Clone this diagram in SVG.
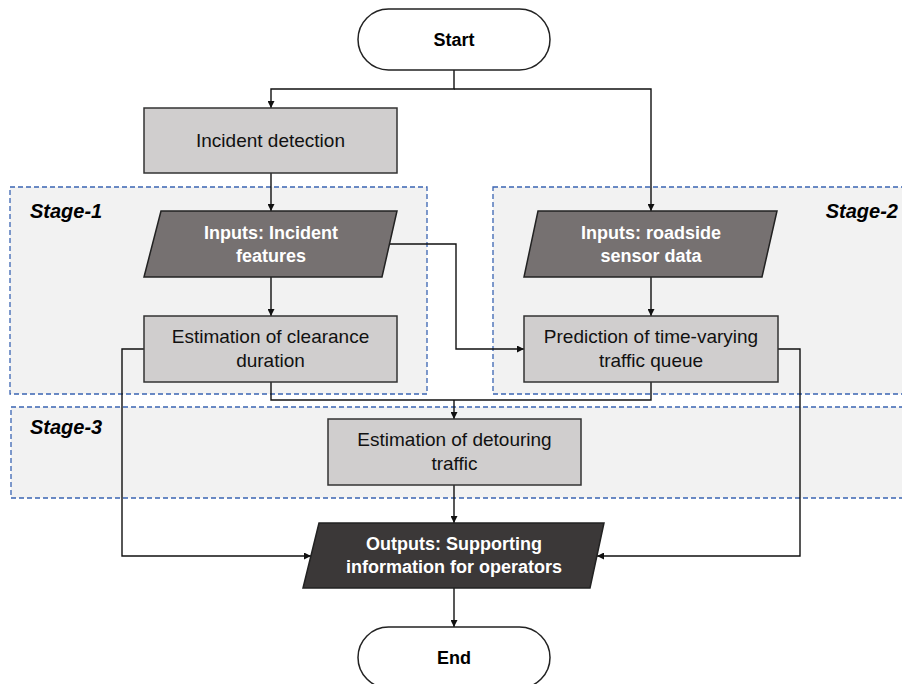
<svg xmlns="http://www.w3.org/2000/svg" width="902" height="684" viewBox="0 0 902 684">
  <style>
    .stage { fill: #f2f2f2; stroke: #3a64b2; stroke-width: 1.3; stroke-dasharray: 5 3; }
    .stage-label { font-family: "Liberation Sans", Arial, sans-serif; font-size: 20px; font-weight: bold; font-style: italic; fill: #000; }
    .proc { fill: #d0cece; stroke: #333; stroke-width: 1.5; }
    .input { fill: #767171; stroke: #222; stroke-width: 1.5; }
    .output { fill: #3b3838; stroke: #222; stroke-width: 1.5; }
    .term { fill: #fff; stroke: #222; stroke-width: 1.5; }
    .t { font-family: "Liberation Sans", Arial, sans-serif; font-size: 19px; fill: #111; text-anchor: middle; }
    .tb { font-family: "Liberation Sans", Arial, sans-serif; font-size: 18px; font-weight: bold; fill: #fff; text-anchor: middle; }
    .tk { font-family: "Liberation Sans", Arial, sans-serif; font-size: 18px; font-weight: bold; fill: #000; text-anchor: middle; }
    .conn { fill: none; stroke: #111; stroke-width: 1.4; }
  </style>
  <defs>
    <marker id="arrow" viewBox="0 0 10 10" refX="10" refY="5" markerWidth="7" markerHeight="7" markerUnits="userSpaceOnUse" orient="auto">
      <path d="M0,0 L10,5 L0,10 z" fill="#111"/>
    </marker>
  </defs>

  <!-- stage backgrounds -->
  <g id="stage-1">
    <rect class="stage" x="10" y="187" width="417" height="207"/>
    <text class="stage-label" x="30" y="218">Stage-1</text>
  </g>
  <g id="stage-2">
    <rect class="stage" x="493" y="187" width="415" height="207"/>
    <text class="stage-label" x="898" y="218" text-anchor="end">Stage-2</text>
  </g>
  <g id="stage-3">
    <rect class="stage" x="11" y="407" width="897" height="91"/>
    <text class="stage-label" x="30" y="434">Stage-3</text>
  </g>

  <!-- connectors -->
  <g id="connectors">
    <path class="conn" d="M454,70 V89 H271 V108" marker-end="url(#arrow)"/>
    <path class="conn" d="M454,89 H651 V211" marker-end="url(#arrow)"/>
    <path class="conn" d="M271,173 V211" marker-end="url(#arrow)"/>
    <path class="conn" d="M271,277 V316" marker-end="url(#arrow)"/>
    <path class="conn" d="M651,277 V316" marker-end="url(#arrow)"/>
    <path class="conn" d="M389,244 H456 V349 H524" marker-end="url(#arrow)"/>
    <path class="conn" d="M144,349 H122 V556 H311" marker-end="url(#arrow)"/>
    <path class="conn" d="M778,349 H800 V556 H597" marker-end="url(#arrow)"/>
    <path class="conn" d="M271,382 V400 H651 V382"/>
    <path class="conn" d="M454,400 V419" marker-end="url(#arrow)"/>
    <path class="conn" d="M454,485 V523" marker-end="url(#arrow)"/>
    <path class="conn" d="M454,588 V627" marker-end="url(#arrow)"/>
  </g>

  <!-- nodes -->
  <g id="start">
    <rect class="term" x="358" y="9" width="192" height="61" rx="30.5" ry="30.5"/>
    <text class="tk" x="454" y="46">Start</text>
  </g>
  <g id="incident-detection">
    <rect class="proc" x="144" y="108" width="253" height="65"/>
    <text class="t" x="270.5" y="147">Incident detection</text>
  </g>
  <g id="inputs-incident">
    <polygon class="input" points="161,211 397,211 382,277 144,277"/>
    <text class="tb" x="271" y="239">Inputs: Incident</text>
    <text class="tb" x="271" y="262">features</text>
  </g>
  <g id="inputs-roadside">
    <polygon class="input" points="538,211 777,211 762,277 524,277"/>
    <text class="tb" x="651" y="239">Inputs: roadside</text>
    <text class="tb" x="651" y="262">sensor data</text>
  </g>
  <g id="clearance">
    <rect class="proc" x="144" y="316" width="253" height="66"/>
    <text class="t" x="270.5" y="343">Estimation of clearance</text>
    <text class="t" x="270.5" y="367">duration</text>
  </g>
  <g id="queue">
    <rect class="proc" x="524" y="316" width="254" height="66"/>
    <text class="t" x="651" y="343">Prediction of time-varying</text>
    <text class="t" x="651" y="367">traffic queue</text>
  </g>
  <g id="detouring">
    <rect class="proc" x="328" y="419" width="253" height="66"/>
    <text class="t" x="454.5" y="446">Estimation of detouring</text>
    <text class="t" x="454.5" y="470">traffic</text>
  </g>
  <g id="outputs">
    <polygon class="output" points="319,523 604,523 590,588 303,588"/>
    <text class="tb" x="454" y="550">Outputs: Supporting</text>
    <text class="tb" x="454" y="573">information for operators</text>
  </g>
  <g id="end">
    <rect class="term" x="358" y="627" width="192" height="61" rx="30.5" ry="30.5"/>
    <text class="tk" x="454" y="664">End</text>
  </g>
</svg>
